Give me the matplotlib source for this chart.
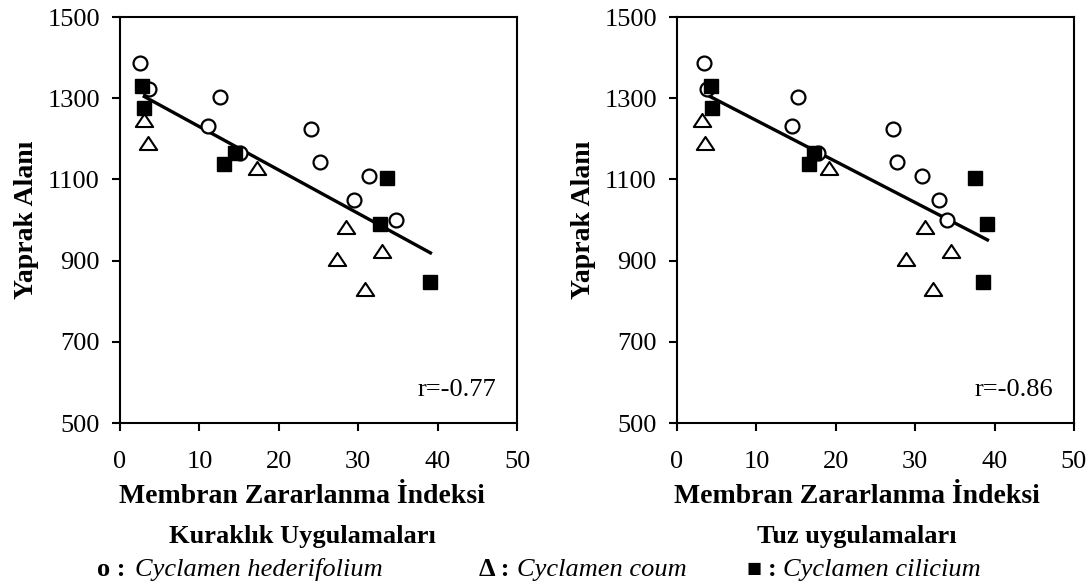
import numpy as np
import matplotlib
matplotlib.use("Agg")
import matplotlib.pyplot as plt
from matplotlib.path import Path

plt.rcParams['font.family'] = ['Liberation Serif', 'DejaVu Serif']

# Leaf area (Yaprak Alanı) values, shared by both treatments
circle_y = [1386, 1322, 1302, 1232, 1166, 1223, 1144, 1109, 1049, 1000]
triangle_y = [1246, 1189, 1127, 982, 903, 924, 831]
square_y = [1330, 1275, 1138, 1164, 1103, 990, 848]

# Drought (Kuraklık) membrane damage index
drought_circle_x = [2.5, 3.65, 12.6, 11.1, 15.1, 24.1, 25.2, 31.3, 29.5, 34.8]
drought_triangle_x = [3.07, 3.57, 17.2, 28.5, 27.3, 33.0, 30.8]
drought_square_x = [2.8, 3.07, 13.1, 14.5, 33.6, 32.7, 39.0]

# Salt (Tuz) membrane damage index
salt_circle_x = [3.37, 3.78, 15.3, 14.5, 17.8, 27.2, 27.7, 30.9, 33.0, 34.0]
salt_triangle_x = [3.2, 3.5, 19.1, 31.2, 28.9, 34.5, 32.2]
salt_square_x = [4.25, 4.46, 16.6, 17.2, 37.5, 39.1, 38.5]

# Trend lines (start/end)
drought_line_x = [3.06, 39.1]
drought_line_y = [1304, 919]
salt_line_x = [3.78, 39.1]
salt_line_y = [1308, 951]

r_labels = ["r=-0.77", "r=-0.86"]
x_ticks = [0, 10, 20, 30, 40, 50]
y_ticks = [500, 700, 900, 1100, 1300, 1500]

W, H = 1091, 585
FS = 19

fig = plt.figure(figsize=(W / 100, H / 100), dpi=100)
ax1 = fig.add_axes([120 / W, 1 - 423 / H, 397 / W, 406 / H])
ax2 = fig.add_axes([677 / W, 1 - 423 / H, 397 / W, 406 / H])

tri = Path([(-1, -0.75), (1, -0.75), (0, 0.75), (-1, -0.75)],
           [Path.MOVETO, Path.LINETO, Path.LINETO, Path.CLOSEPOLY])

datasets = [
    (ax1, drought_circle_x, drought_triangle_x, drought_square_x, drought_line_x, drought_line_y, r_labels[0]),
    (ax2, salt_circle_x, salt_triangle_x, salt_square_x, salt_line_x, salt_line_y, r_labels[1]),
]

for ax, cx, tx, sx, lx, ly, rl in datasets:
    ax.plot(lx, ly, color='black', lw=2.4, zorder=2)
    ax.plot(cx, circle_y, 'o', ms=10, mfc='white', mec='black', mew=1.6, zorder=3)
    ax.plot(tx, triangle_y, marker=tri, ls='none', ms=12.5, mfc='white', mec='black', mew=1.5, zorder=3)
    ax.plot(sx, square_y, 's', ms=10.5, mfc='black', mec='black', zorder=4)
    ax.set_xlim(0, 50)
    ax.set_ylim(500, 1500)
    ax.set_xticks(x_ticks)
    ax.set_yticks(y_ticks)
    ax.tick_params(direction='out', length=5.5, width=1.5, labelsize=FS,
                   top=False, right=False)
    ax.tick_params(axis='x', pad=15)
    ax.tick_params(axis='y', pad=9)
    for sp in ax.spines.values():
        sp.set_linewidth(1.5)
    ax.text(0.947, 0.081, rl, transform=ax.transAxes, ha='right', va='center', fontsize=FS)

# y-axis titles
for xp in (27, 584):
    fig.text(xp / W, 1 - 220 / H, 'Yaprak Alanı', ha='center', va='center', rotation=90,
             fontsize=20, fontweight='bold')

# x-axis titles
for cxp in (302, 857):
    fig.text(cxp / W, 1 - 503 / H, 'Membran Zararlanma İndeksi', ha='center', va='baseline',
             fontsize=20, fontweight='bold')

# treatment titles
fig.text(302 / W, 1 - 543 / H, 'Kuraklık Uygulamaları', ha='center', va='baseline',
         fontsize=FS, fontweight='bold')
fig.text(857 / W, 1 - 543 / H, 'Tuz uygulamaları', ha='center', va='baseline',
         fontsize=FS, fontweight='bold')

# species key
leg_y = 1 - 576 / H
fig.text(97 / W, leg_y, 'o :', ha='left', va='baseline', fontsize=FS, fontweight='bold')
fig.text(135 / W, leg_y, 'Cyclamen hederifolium', ha='left', va='baseline', fontsize=FS, style='italic')
fig.text(479 / W, leg_y, 'Δ :', ha='left', va='baseline', fontsize=FS, fontweight='bold')
fig.text(517 / W, leg_y, 'Cyclamen coum', ha='left', va='baseline', fontsize=FS, style='italic')
fig.text(747 / W, leg_y, '■', ha='left', va='baseline', fontsize=18, fontweight='bold')
fig.text(768 / W, leg_y, ':', ha='left', va='baseline', fontsize=FS, fontweight='bold')
fig.text(783 / W, leg_y, 'Cyclamen cilicium', ha='left', va='baseline', fontsize=FS, style='italic')

fig.savefig('out.png', dpi=100)
